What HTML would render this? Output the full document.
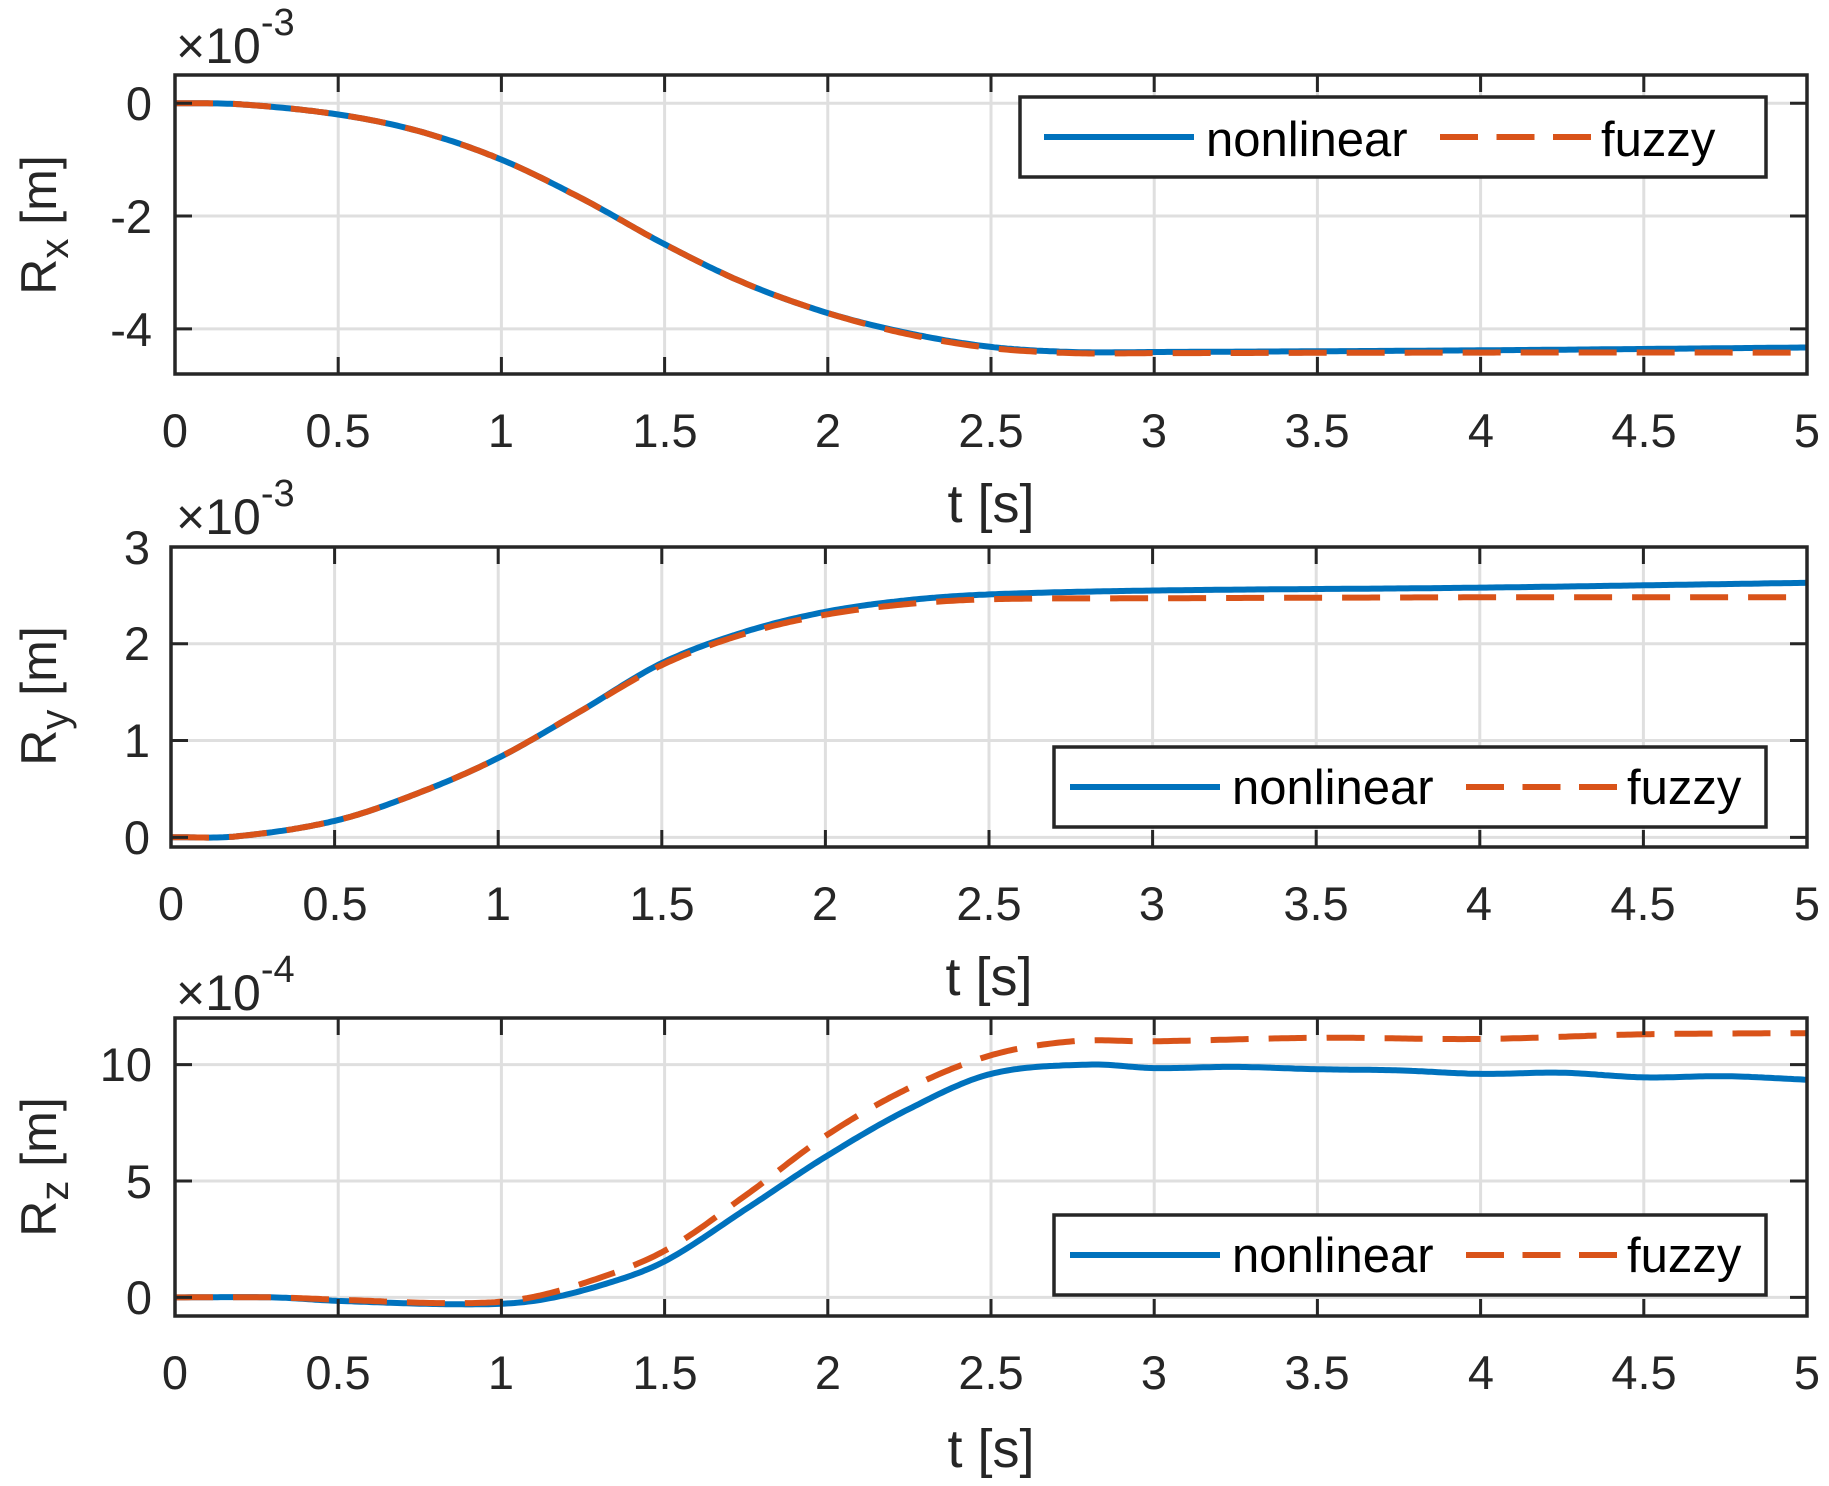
<!DOCTYPE html>
<html><head><meta charset="utf-8"><style>
html,body{margin:0;padding:0;background:#fff}
svg{display:block}
text{font-family:"Liberation Sans",Arial,sans-serif;fill:#262626}
.t{font-size:47px;text-anchor:middle}
.xl{font-size:54px}
.y{font-size:47px;text-anchor:end}
.lg{font-size:49px;fill:#000}
</style></head><body>
<svg id="s" width="1829" height="1486" viewBox="0 0 1829 1486" xmlns="http://www.w3.org/2000/svg">
<rect width="1829" height="1486" fill="#fff"/>
<g id="g"></g>
<!-- Plot 1 texts -->
<text x="176" y="63" style="font-size:50px">×10<tspan dy="-28" style="font-size:38px">-3</tspan></text>
<g class="t">
<text x="175" y="447">0</text><text x="338" y="447">0.5</text><text x="501" y="447">1</text><text x="665" y="447">1.5</text><text x="828" y="447">2</text><text x="991" y="447">2.5</text><text x="1154" y="447">3</text><text x="1317" y="447">3.5</text><text x="1481" y="447">4</text><text x="1644" y="447">4.5</text><text x="1807" y="447">5</text>
<text class="xl" x="991" y="522">t [s]</text>
</g>
<g class="y"><text x="152" y="120">0</text><text x="152" y="233">-2</text><text x="152" y="346">-4</text></g>
<text transform="translate(56,225) rotate(-90)" style="font-size:50px;text-anchor:middle">R<tspan dy="12" style="font-size:40px">x</tspan><tspan dy="-12"> [m]</tspan></text>
<!-- Plot 2 -->
<text x="176" y="534" style="font-size:50px">×10<tspan dy="-28" style="font-size:38px">-3</tspan></text>
<g class="t">
<text x="171" y="920">0</text><text x="335" y="920">0.5</text><text x="498" y="920">1</text><text x="662" y="920">1.5</text><text x="825" y="920">2</text><text x="989" y="920">2.5</text><text x="1152" y="920">3</text><text x="1316" y="920">3.5</text><text x="1479" y="920">4</text><text x="1643" y="920">4.5</text><text x="1807" y="920">5</text>
<text class="xl" x="989" y="995">t [s]</text>
</g>
<g class="y"><text x="150" y="564">3</text><text x="150" y="660">2</text><text x="150" y="757">1</text><text x="150" y="854">0</text></g>
<text transform="translate(56,696) rotate(-90)" style="font-size:50px;text-anchor:middle">R<tspan dy="12" style="font-size:40px">y</tspan><tspan dy="-12"> [m]</tspan></text>
<!-- Plot 3 -->
<text x="176" y="1010" style="font-size:50px">×10<tspan dy="-28" style="font-size:38px">-4</tspan></text>
<g class="t">
<text x="175" y="1389">0</text><text x="338" y="1389">0.5</text><text x="501" y="1389">1</text><text x="665" y="1389">1.5</text><text x="828" y="1389">2</text><text x="991" y="1389">2.5</text><text x="1154" y="1389">3</text><text x="1317" y="1389">3.5</text><text x="1481" y="1389">4</text><text x="1644" y="1389">4.5</text><text x="1807" y="1389">5</text>
<text class="xl" x="991" y="1467">t [s]</text>
</g>
<g class="y"><text x="152" y="1081">10</text><text x="152" y="1198">5</text><text x="152" y="1314">0</text></g>
<text transform="translate(56,1167) rotate(-90)" style="font-size:50px;text-anchor:middle">R<tspan dy="12" style="font-size:40px">z</tspan><tspan dy="-12"> [m]</tspan></text>
<!-- legends -->
<g id="leg"></g>
<text class="lg" x="1206" y="156">nonlinear</text><text class="lg" x="1601" y="156">fuzzy</text>
<text class="lg" x="1232" y="804">nonlinear</text><text class="lg" x="1627" y="804">fuzzy</text>
<text class="lg" x="1232" y="1272">nonlinear</text><text class="lg" x="1627" y="1272">fuzzy</text>
</svg>
<script>
var NS="http://www.w3.org/2000/svg",G=document.getElementById('g'),L=document.getElementById('leg');
function el(p,n,a){var e=document.createElementNS(NS,n);for(var k in a)e.setAttribute(k,a[k]);p.appendChild(e);return e;}
function interp(pts,t){
  for(var i=0;i<pts.length-1;i++){if(t<=pts[i+1][0]){
    var p0=pts[Math.max(i-1,0)],p1=pts[i],p2=pts[i+1],p3=pts[Math.min(i+2,pts.length-1)];
    var h=p2[0]-p1[0],u=(t-p1[0])/h;
    var m1=(p2[1]-p0[1])/(p2[0]-p0[0])*h,m2=(p3[1]-p1[1])/(p3[0]-p1[0])*h;
    var u2=u*u,u3=u2*u;
    return (2*u3-3*u2+1)*p1[1]+(u3-2*u2+u)*m1+(-2*u3+3*u2)*p2[1]+(u3-u2)*m2;}}
  return pts[pts.length-1][1];}
function plot(ax,series){
  var X=function(t){return ax.l+(ax.r-ax.l)*t/5},Y=function(v){return ax.b-(ax.b-ax.t)*(v-ax.y0)/(ax.y1-ax.y0)};
  for(var i=1;i<10;i++){var x=X(i*0.5);el(G,'line',{x1:x,x2:x,y1:ax.t,y2:ax.b,stroke:'#dfdfdf','stroke-width':3});}
  ax.yt.forEach(function(v){var y=Y(v);el(G,'line',{x1:ax.l,x2:ax.r,y1:y,y2:y,stroke:'#dfdfdf','stroke-width':3});});
  series.forEach(function(s){var d='';for(var k=0;k<=500;k++){var t=k/100;d+=(k?'L':'M')+X(t).toFixed(1)+','+Y(interp(s.p,t)).toFixed(1);}
    var a={d:d,fill:'none',stroke:s.c,'stroke-width':6};if(s.dash)a['stroke-dasharray']='38 20';el(G,'path',a);});
  for(var i=1;i<10;i++){var x=X(i*0.5);el(G,'line',{x1:x,x2:x,y1:ax.t,y2:ax.t+17,stroke:'#262626','stroke-width':3});el(G,'line',{x1:x,x2:x,y1:ax.b,y2:ax.b-17,stroke:'#262626','stroke-width':3});}
  ax.yt.forEach(function(v){var y=Y(v);el(G,'line',{x1:ax.l,x2:ax.l+17,y1:y,y2:y,stroke:'#262626','stroke-width':3});el(G,'line',{x1:ax.r,x2:ax.r-17,y1:y,y2:y,stroke:'#262626','stroke-width':3});});
  el(G,'rect',{x:ax.l,y:ax.t,width:ax.r-ax.l,height:ax.b-ax.t,fill:'none',stroke:'#262626','stroke-width':3.5});
  var lg=ax.lg;el(L,'rect',{x:lg.x,y:lg.y,width:lg.w,height:lg.h,fill:'#fff',stroke:'#262626','stroke-width':3.5});
  var ly=lg.y+lg.h/2;el(L,'line',{x1:lg.x+lg.o,x2:lg.x+lg.o+150,y1:ly,y2:ly,stroke:'#0072bd','stroke-width':6});
  el(L,'line',{x1:lg.x+lg.o+396,x2:lg.x+lg.o+547,y1:ly,y2:ly,stroke:'#d95319','stroke-width':6,'stroke-dasharray':'38 18.5'});
}
var B='#0072bd',R='#d95319';
plot({l:175,r:1807,t:75,b:374,y0:-4.8,y1:0.5,yt:[0,-2,-4],lg:{x:1020,y:97,w:746,h:80,o:24}},[
 {c:B,p:[[0,0],[0.2,-0.02],[0.5,-0.2],[0.75,-0.5],[1,-1.0],[1.25,-1.7],[1.5,-2.5],[1.75,-3.2],[2,-3.72],[2.25,-4.08],[2.5,-4.32],[2.75,-4.41],[3,-4.41],[4,-4.38],[5,-4.33]]},
 {c:R,dash:1,p:[[0,0],[0.2,-0.02],[0.5,-0.2],[0.75,-0.5],[1,-1.0],[1.25,-1.7],[1.5,-2.5],[1.75,-3.2],[2,-3.72],[2.25,-4.1],[2.5,-4.34],[2.75,-4.43],[3,-4.43],[4,-4.42],[5,-4.42]]}]);
plot({l:171,r:1807,t:547,b:847,y0:-0.1,y1:3,yt:[0,1,2,3],lg:{x:1054,y:747,w:712,h:80,o:16}},[
 {c:B,p:[[0,0],[0.2,0.01],[0.5,0.17],[0.75,0.45],[1,0.82],[1.25,1.3],[1.5,1.8],[1.75,2.12],[2,2.33],[2.25,2.45],[2.5,2.51],[3,2.55],[4,2.58],[5,2.63]]},
 {c:R,dash:1,p:[[0,0],[0.2,0.01],[0.5,0.17],[0.75,0.45],[1,0.82],[1.25,1.3],[1.5,1.78],[1.75,2.1],[2,2.3],[2.25,2.41],[2.5,2.46],[3,2.47],[4,2.48],[5,2.48]]}]);
plot({l:175,r:1807,t:1018,b:1316,y0:-0.8,y1:12,yt:[0,5,10],lg:{x:1054,y:1215,w:712,h:80,o:16}},[
 {c:B,p:[[0,0],[0.3,0],[0.5,-0.15],[0.9,-0.3],[1.1,-0.15],[1.3,0.5],[1.5,1.55],[1.75,3.8],[2,6.1],[2.25,8.1],[2.5,9.6],[2.8,10.0],[3,9.85],[3.25,9.9],[3.5,9.8],[3.75,9.75],[4,9.6],[4.25,9.65],[4.5,9.45],[4.75,9.5],[5,9.35]]},
 {c:R,dash:1,p:[[0,0],[0.3,0],[0.5,-0.1],[0.85,-0.25],[1.05,-0.1],[1.25,0.6],[1.5,2.0],[1.75,4.4],[2,7.0],[2.25,9.0],[2.5,10.4],[2.75,11.0],[3,11.0],[3.5,11.15],[4,11.1],[4.5,11.3],[5,11.35]]}]);
</script>
</body></html>
